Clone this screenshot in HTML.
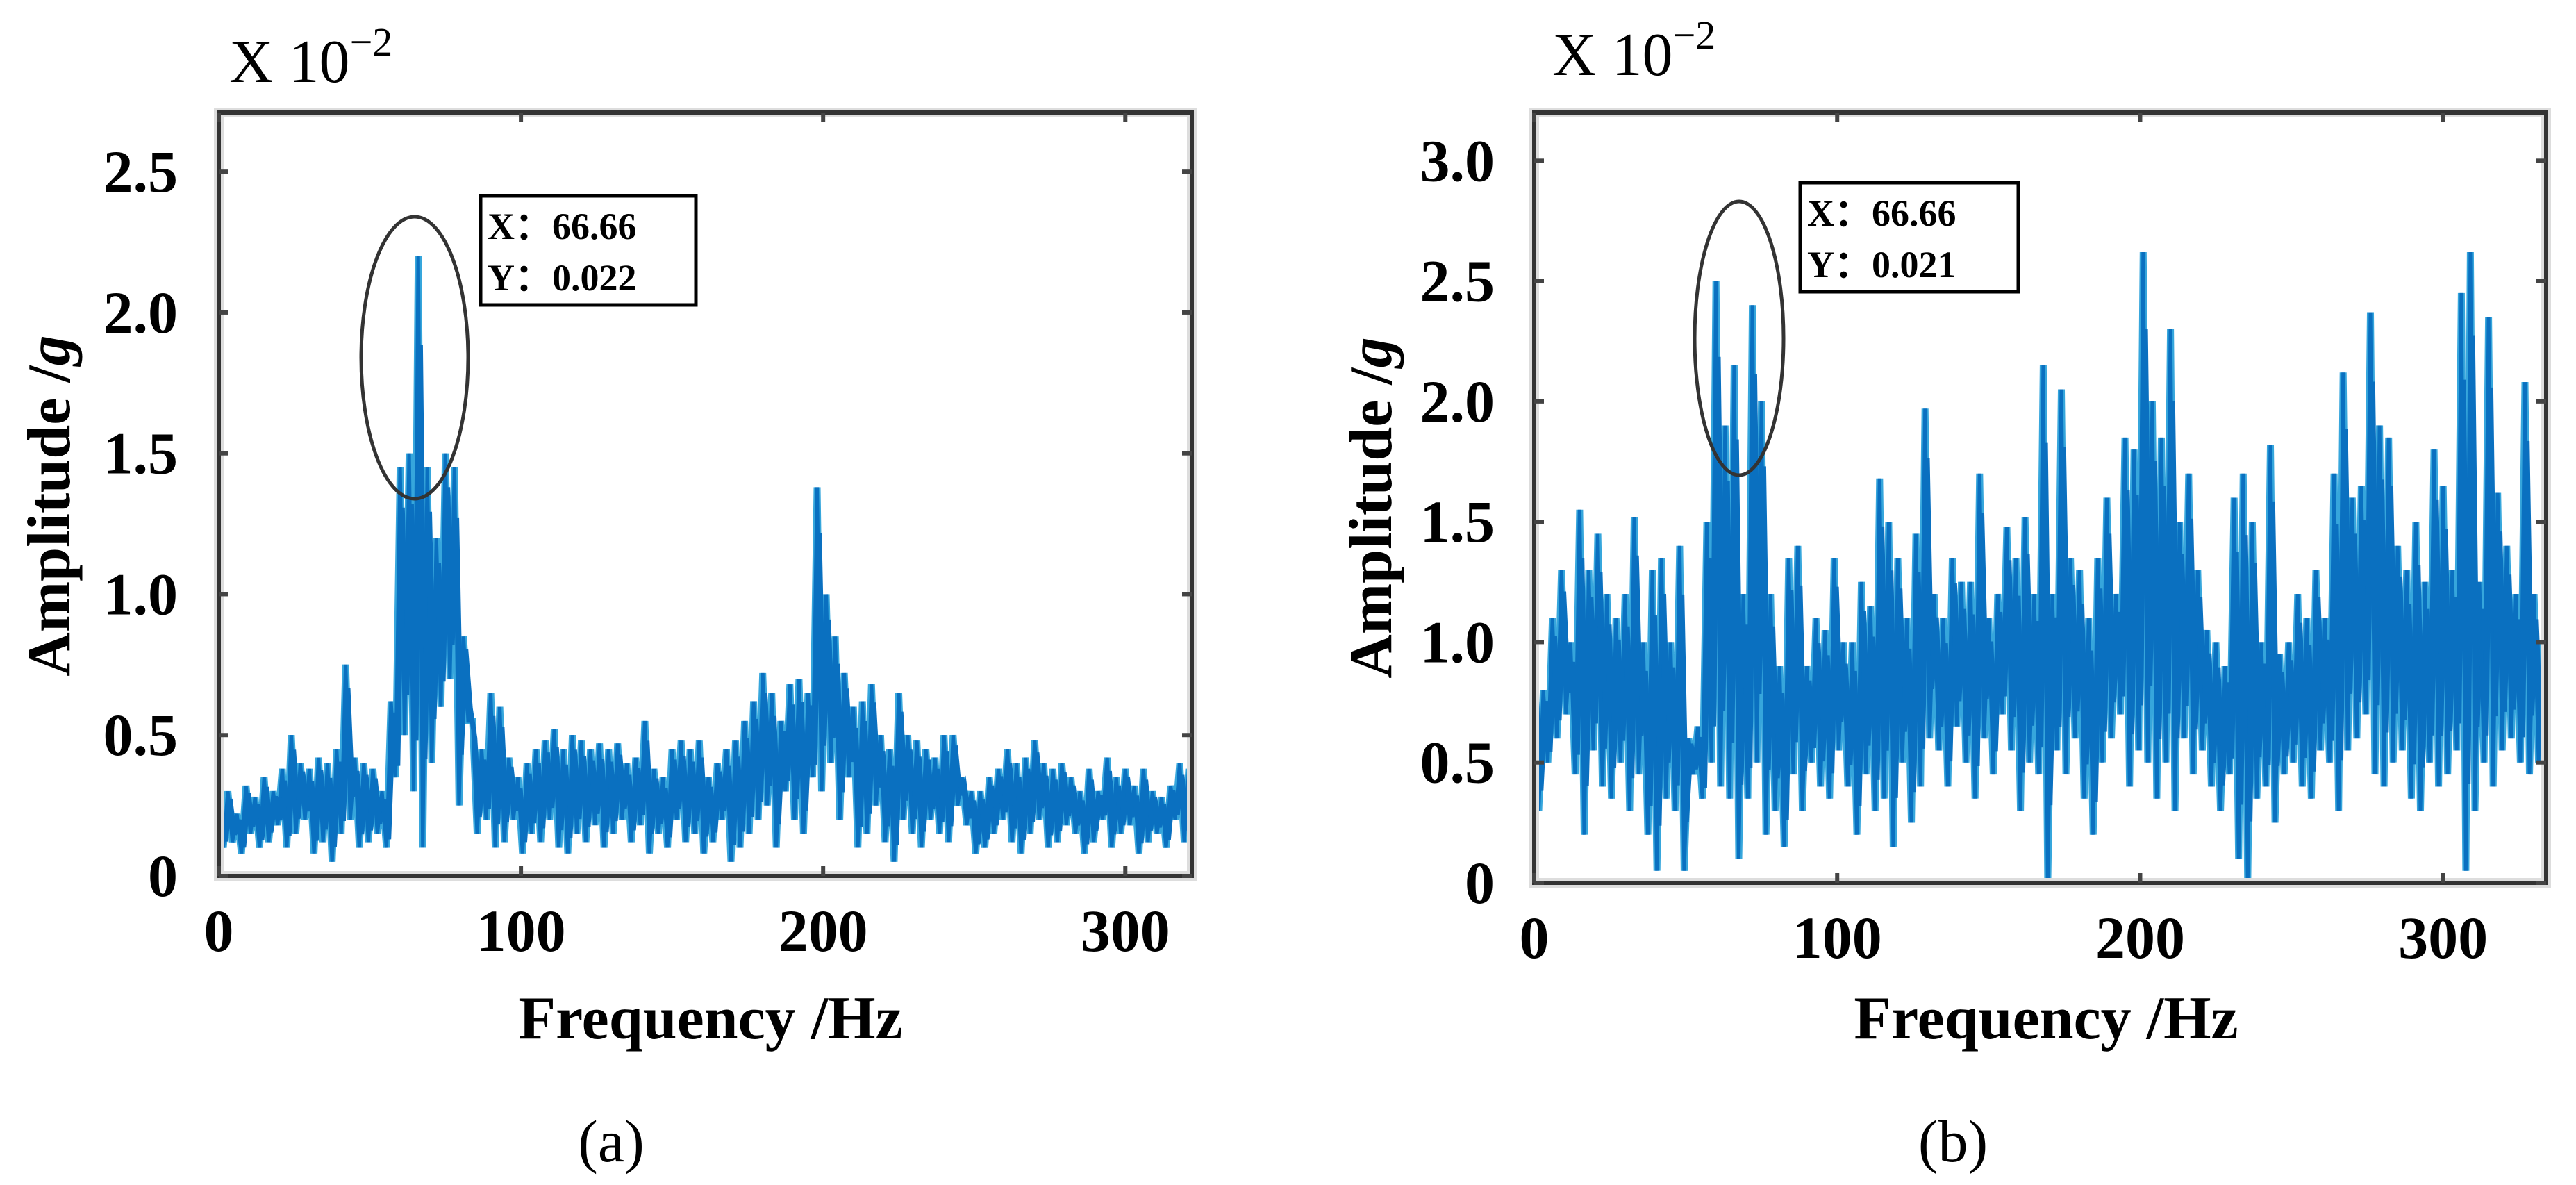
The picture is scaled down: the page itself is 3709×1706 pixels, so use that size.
<!DOCTYPE html>
<html><head><meta charset="utf-8"><style>
html,body{margin:0;padding:0;background:#fff;}
svg{display:block;font-family:"Liberation Serif",serif;}
</style></head><body>
<svg id="fig" width="3709" height="1706" viewBox="0 0 3709 1706" xmlns="http://www.w3.org/2000/svg"></svg>
<script>
const xTicks = [0, 100, 200, 300];
const yTicksA = [0, 0.5, 1.0, 1.5, 2.0, 2.5];
const yTicksB = [0, 0.5, 1.0, 1.5, 2.0, 2.5, 3.0];
const freqStep = 3;
const hiA = [0.25,0.3,0.22,0.32,0.28,0.35,0.3,0.38,0.5,0.4,0.38,0.42,0.4,0.45,0.75,0.42,0.4,0.38,0.3,0.62,1.45,1.5,2.2,1.45,1.2,1.5,1.45,0.85,0.55,0.45,0.65,0.6,0.42,0.35,0.4,0.45,0.48,0.52,0.45,0.5,0.48,0.45,0.47,0.45,0.47,0.4,0.42,0.55,0.38,0.35,0.45,0.48,0.45,0.48,0.35,0.4,0.45,0.48,0.55,0.62,0.72,0.65,0.55,0.68,0.7,0.65,1.38,1.0,0.85,0.72,0.6,0.62,0.68,0.5,0.45,0.65,0.5,0.48,0.45,0.42,0.5,0.5,0.35,0.3,0.3,0.35,0.38,0.45,0.4,0.42,0.48,0.4,0.38,0.4,0.35,0.3,0.38,0.3,0.42,0.35,0.38,0.32,0.38,0.3,0.28,0.32,0.4,0.38,0.15];
const loA = [0.1,0.12,0.08,0.15,0.1,0.12,0.18,0.1,0.15,0.2,0.08,0.12,0.05,0.15,0.2,0.1,0.12,0.15,0.1,0.35,0.5,0.3,0.1,0.4,0.6,0.7,0.25,0.55,0.15,0.2,0.1,0.12,0.2,0.08,0.15,0.12,0.2,0.1,0.08,0.15,0.12,0.18,0.1,0.15,0.2,0.12,0.18,0.08,0.15,0.1,0.2,0.12,0.15,0.08,0.12,0.2,0.05,0.1,0.15,0.2,0.25,0.1,0.3,0.2,0.15,0.35,0.3,0.4,0.2,0.35,0.1,0.15,0.25,0.12,0.05,0.2,0.15,0.1,0.2,0.15,0.12,0.25,0.18,0.08,0.1,0.15,0.2,0.12,0.08,0.15,0.2,0.1,0.12,0.18,0.15,0.08,0.12,0.2,0.1,0.15,0.18,0.08,0.12,0.15,0.1,0.2,0.12,0.15,0.1];
const hiB = [0.85,0.8,1.1,1.3,1.0,1.55,1.3,1.45,1.2,1.1,1.2,1.52,1.0,1.3,1.35,1.0,1.4,0.6,0.65,1.5,2.5,1.9,2.15,1.2,2.4,2.0,1.2,0.9,1.35,1.4,0.9,1.1,1.05,1.35,1.0,1.0,1.25,1.15,1.68,1.5,1.35,1.1,1.45,1.97,1.2,1.1,1.35,1.25,1.25,1.7,1.1,1.2,1.48,1.35,1.52,1.2,2.15,1.2,2.05,1.35,1.3,1.1,1.35,1.6,1.2,1.85,1.8,2.62,2.0,1.85,2.3,1.5,1.7,1.3,1.05,1.0,0.9,1.6,1.7,1.5,1.0,1.82,0.95,1.0,1.2,1.1,1.3,1.1,1.7,2.12,1.6,1.65,2.37,1.9,1.85,1.4,1.3,1.5,1.25,1.8,1.65,1.3,2.45,2.62,1.25,2.35,1.62,1.4,1.2,2.08,1.2,1.0];
const loB = [0.3,0.5,0.6,0.7,0.45,0.2,0.55,0.4,0.35,0.5,0.3,0.45,0.2,0.05,0.35,0.3,0.05,0.45,0.35,0.5,0.4,0.35,0.1,0.35,0.5,0.2,0.3,0.15,0.45,0.3,0.5,0.4,0.35,0.55,0.4,0.2,0.45,0.3,0.35,0.15,0.5,0.25,0.4,0.6,0.55,0.4,0.65,0.5,0.35,0.6,0.45,0.7,0.55,0.3,0.5,0.45,0.0,0.55,0.45,0.6,0.35,0.2,0.5,0.6,0.7,0.4,0.55,0.5,0.35,0.5,0.3,0.6,0.45,0.55,0.4,0.3,0.45,0.1,0.0,0.35,0.4,0.25,0.45,0.5,0.4,0.35,0.55,0.5,0.3,0.55,0.6,0.7,0.45,0.4,0.5,0.55,0.35,0.3,0.5,0.4,0.45,0.55,0.05,0.3,0.5,0.4,0.55,0.6,0.5,0.45,0.5,0.5];

const NS = 'http://www.w3.org/2000/svg';
const svg = document.getElementById('fig');
function mk(tag, attrs, parent) {
  const e = document.createElementNS(NS, tag);
  for (const k in attrs) e.setAttribute(k, attrs[k]);
  (parent || svg).appendChild(e);
  return e;
}

function panel(cfg) {
  const g = mk('g', {});
  
  
  const xs = v => cfg.L + v / cfg.xmax * (cfg.R - cfg.L);
  const ys = v => cfg.B - v / cfg.ymax * (cfg.B - cfg.T);
  const defs = mk('defs', {}, g);
  const cp = mk('clipPath', {id: 'clip-' + cfg.name}, defs);
  mk('rect', {x: cfg.L, y: cfg.T, width: cfg.R - cfg.L, height: cfg.B - cfg.T}, cp);
  const sg = mk('g', {'clip-path': 'url(#clip-' + cfg.name + ')'}, g);
  let d = '', d2 = '';
  cfg.hi.forEach((h, i) => {
    const f = i * freqStep;
    const lo = cfg.lo[i];
    const mid = (h + lo) / 2;
    d += (i === 0 ? 'M' : 'L') + xs(f).toFixed(1) + ',' + ys(h).toFixed(1);
    d += 'L' + xs(f + freqStep * 0.5).toFixed(1) + ',' + ys(lo).toFixed(1);
    d2 += (i === 0 ? 'M' : 'L') + xs(f + freqStep * 0.25).toFixed(1) + ',' + ys(mid + (h - mid) * 0.7).toFixed(1);
    d2 += 'L' + xs(f + freqStep * 0.75).toFixed(1) + ',' + ys(lo + (mid - lo) * 0.3).toFixed(1);
  });
  const lt = mk('path', {d: d, fill: 'none', stroke: '#36a6dc', 'stroke-width': 10, 'stroke-linejoin': 'miter'}, sg);
  
  
  const ln2 = mk('path', {d: d2, fill: 'none', stroke: '#0a70c0', 'stroke-width': 7}, sg);
  
  
  const ln = mk('path', {d: d, fill: 'none', stroke: '#0a70c0', 'stroke-width': 5}, sg);
  
  
  const fr = mk('rect', {x: cfg.L, y: cfg.T, width: cfg.R - cfg.L, height: cfg.B - cfg.T, fill: 'none', stroke: '#ddd', 'stroke-width': 14}, g);
  
  
  const fr2 = mk('rect', {x: cfg.L, y: cfg.T, width: cfg.R - cfg.L, height: cfg.B - cfg.T, fill: 'none', stroke: '#333', 'stroke-width': 6}, g);
  
  
  xTicks.forEach(t => {
    const x = xs(t);
    mk('line', {x1: x, x2: x, y1: cfg.B, y2: cfg.B - 14, stroke: '#444', 'stroke-width': 6}, g);
    mk('line', {x1: x, x2: x, y1: cfg.T, y2: cfg.T + 14, stroke: '#444', 'stroke-width': 6}, g);
    const tx = mk('text', {x: x, y: cfg.B + 108, 'font-size': 86, 'font-weight': 'bold', 'text-anchor': 'middle'}, g);
    tx.textContent = String(t);
    
    
  });
  cfg.yt.forEach(t => {
    const y = ys(t);
    mk('line', {x1: cfg.L, x2: cfg.L + 14, y1: y, y2: y, stroke: '#444', 'stroke-width': 6}, g);
    mk('line', {x1: cfg.R, x2: cfg.R - 14, y1: y, y2: y, stroke: '#444', 'stroke-width': 6}, g);
    const ty = mk('text', {x: cfg.tickR, y: y + 29, 'font-size': 86, 'font-weight': 'bold', 'text-anchor': 'end'}, g);
    ty.textContent = t === 0 ? '0' : t.toFixed(1);
    
    
  });
  const xl = mk('text', {x: cfg.xlX, y: 1495, 'font-size': 88, 'font-weight': 'bold', 'text-anchor': 'middle'}, g);
  xl.textContent = 'Frequency /Hz';
  
  
  const yl = mk('text', {transform: 'translate(' + cfg.ylX + ',' + cfg.ylY + ') rotate(-90)', 'font-size': 88, 'font-weight': 'bold', 'text-anchor': 'middle'}, g);
  yl.innerHTML = 'Amplitude /<tspan font-style="italic">g</tspan>';
  
  
  const ex = mk('text', {x: cfg.exX, y: cfg.exY, 'font-size': 88}, g);
  ex.innerHTML = 'X 10<tspan dy="-38" font-size="58">−2</tspan>';
  
  
  const el = mk('ellipse', {cx: cfg.el[0], cy: cfg.el[1], rx: cfg.el[2], ry: cfg.el[3], fill: 'none', stroke: '#333', 'stroke-width': 5}, g);
  
  
  const bx = mk('rect', {x: cfg.box[0], y: cfg.box[1], width: cfg.box[2], height: cfg.box[3], fill: '#fff', stroke: '#000', 'stroke-width': 5}, g);
  
  
  const t1 = mk('text', {x: cfg.box[0] + 10, y: cfg.box[1] + 62, 'font-size': 54, 'font-weight': 'bold'}, g);
  t1.textContent = 'X：66.66';
  
  
  const t2 = mk('text', {x: cfg.box[0] + 10, y: cfg.box[1] + 136, 'font-size': 54, 'font-weight': 'bold'}, g);
  t2.textContent = 'Y：0.0' + cfg.yval.slice(3);
  
  
  const cap = mk('text', {x: cfg.capX, y: 1672, 'font-size': 86, 'text-anchor': 'middle'}, g);
  cap.textContent = cfg.cap;
  
  
}

panel({name: 'panel-a', L: 315, R: 1716, T: 162, B: 1261, xmax: 322, ymax: 2.71, hi: hiA, lo: loA, yt: yTicksA,
  tickR: 256, xlX: 1023, ylX: 100, ylY: 728, exX: 330, exY: 118, el: [597, 515, 77, 203], box: [692, 282, 310, 157],
  yval: '0.022', capX: 880, cap: '(a)'});
panel({name: 'panel-b', L: 2209, R: 3666, T: 162, B: 1271, xmax: 334, ymax: 3.2, hi: hiB, lo: loB, yt: yTicksB,
  tickR: 2152, xlX: 2946, ylX: 2003, ylY: 731, exX: 2235, exY: 108, el: [2504, 487, 64, 197], box: [2592, 263, 314, 157],
  yval: '0.021', capX: 2812, cap: '(b)'});
</script>
</body></html>
